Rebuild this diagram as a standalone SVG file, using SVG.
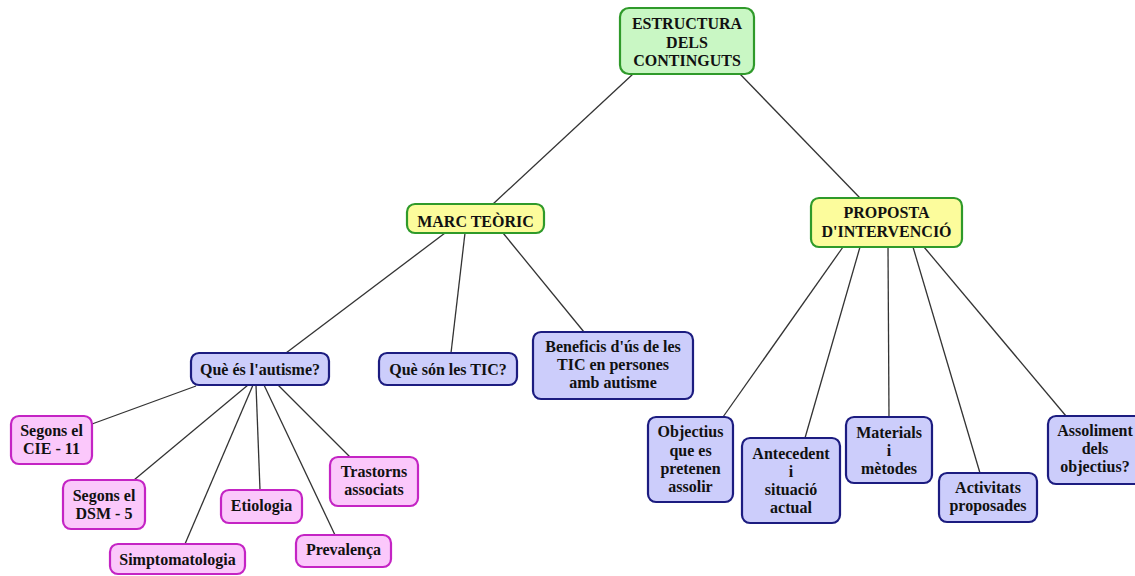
<svg xmlns="http://www.w3.org/2000/svg" width="1135" height="576" viewBox="0 0 1135 576">
<style>
.bg{fill:#ffffff}
.edge{stroke:#333333;stroke-width:1.3;fill:none}
.box{stroke-width:2.2}
.green{fill:#c9f7c4;stroke:#2f9a2a}
.yellow{fill:#fcfc9c;stroke:#2f9a2a}
.blue{fill:#cccdfb;stroke:#1c1c80}
.pink{fill:#fbc8fb;stroke:#c424c4}
text{font-family:"Liberation Serif","Times New Roman",serif;font-weight:bold;font-size:16px;fill:#111111;text-anchor:middle}
</style>
<rect class="bg" x="0" y="0" width="1135" height="576"/>
<g id="connectors">
<line class="edge" x1="633" y1="74" x2="493" y2="204"/>
<line class="edge" x1="740" y1="74" x2="860" y2="198"/>
<line class="edge" x1="445" y1="233" x2="286" y2="353"/>
<line class="edge" x1="465" y1="233" x2="451" y2="353"/>
<line class="edge" x1="503" y1="233" x2="584" y2="332"/>
<line class="edge" x1="196" y1="386" x2="92" y2="424"/>
<line class="edge" x1="248" y1="385" x2="134" y2="480"/>
<line class="edge" x1="253" y1="385" x2="185" y2="544"/>
<line class="edge" x1="256" y1="385" x2="260" y2="490"/>
<line class="edge" x1="264" y1="385" x2="335" y2="535"/>
<line class="edge" x1="278" y1="385" x2="350" y2="457"/>
<line class="edge" x1="843" y1="247" x2="723" y2="417"/>
<line class="edge" x1="860" y1="247" x2="805" y2="438"/>
<line class="edge" x1="888" y1="247" x2="889" y2="417"/>
<line class="edge" x1="913" y1="247" x2="980" y2="473"/>
<line class="edge" x1="924" y1="247" x2="1066" y2="416"/>
</g>
<g id="root">
<rect class="box green" x="620" y="8" width="134" height="66" rx="9"/>
<text x="687" y="29">ESTRUCTURA</text>
<text x="687" y="47.5">DELS</text>
<text x="687" y="66">CONTINGUTS</text>
</g>
<g id="marc">
<rect class="box yellow" x="407" y="204" width="137" height="29" rx="8"/>
<text x="475.5" y="227">MARC TEÒRIC</text>
</g>
<g id="proposta">
<rect class="box yellow" x="811" y="198" width="151" height="49" rx="8"/>
<text x="886.5" y="218">PROPOSTA</text>
<text x="886.5" y="237">D'INTERVENCIÓ</text>
</g>
<g id="ques-autisme">
<rect class="box blue" x="191" y="353" width="138" height="32" rx="8"/>
<text x="260" y="375">Què és l'autisme?</text>
</g>
<g id="ques-tic">
<rect class="box blue" x="379" y="353" width="138" height="32" rx="8"/>
<text x="448" y="375">Què són les TIC?</text>
</g>
<g id="beneficis">
<rect class="box blue" x="533" y="332" width="160" height="67" rx="8"/>
<text x="613" y="352">Beneficis d'ús de les</text>
<text x="613" y="370">TIC en persones</text>
<text x="613" y="388">amb autisme</text>
</g>
<g id="cie">
<rect class="box pink" x="11" y="416" width="81" height="48" rx="8"/>
<text x="51.5" y="436">Segons el</text>
<text x="51.5" y="454">CIE - 11</text>
</g>
<g id="dsm">
<rect class="box pink" x="63" y="480" width="82" height="49" rx="8"/>
<text x="104" y="501">Segons el</text>
<text x="104" y="519">DSM - 5</text>
</g>
<g id="simptomatologia">
<rect class="box pink" x="110" y="544" width="135" height="30" rx="8"/>
<text x="177.5" y="565">Simptomatologia</text>
</g>
<g id="etiologia">
<rect class="box pink" x="221" y="490" width="81" height="33" rx="8"/>
<text x="261.5" y="511">Etiologia</text>
</g>
<g id="prevalenca">
<rect class="box pink" x="296" y="535" width="95" height="32" rx="8"/>
<text x="343.5" y="555">Prevalença</text>
</g>
<g id="trastorns">
<rect class="box pink" x="330" y="457" width="88" height="49" rx="8"/>
<text x="374" y="477">Trastorns</text>
<text x="374" y="495">associats</text>
</g>
<g id="objectius">
<rect class="box blue" x="648" y="417" width="85" height="85" rx="8"/>
<text x="690.5" y="437">Objectius</text>
<text x="690.5" y="456">que es</text>
<text x="690.5" y="474">pretenen</text>
<text x="690.5" y="492">assolir</text>
</g>
<g id="antecedent">
<rect class="box blue" x="742" y="438" width="98" height="85" rx="8"/>
<text x="791" y="459">Antecedent</text>
<text x="791" y="477">i</text>
<text x="791" y="495">situació</text>
<text x="791" y="513">actual</text>
</g>
<g id="materials">
<rect class="box blue" x="846" y="417" width="86" height="66" rx="8"/>
<text x="889" y="438">Materials</text>
<text x="889" y="456">i</text>
<text x="889" y="474">mètodes</text>
</g>
<g id="activitats">
<rect class="box blue" x="939" y="473" width="98" height="49" rx="8"/>
<text x="988" y="493">Activitats</text>
<text x="988" y="511">proposades</text>
</g>
<g id="assoliment">
<rect class="box blue" x="1048" y="416" width="95" height="68" rx="8"/>
<text x="1095" y="436">Assoliment</text>
<text x="1095" y="454">dels</text>
<text x="1095" y="472">objectius?</text>
</g>
</svg>
